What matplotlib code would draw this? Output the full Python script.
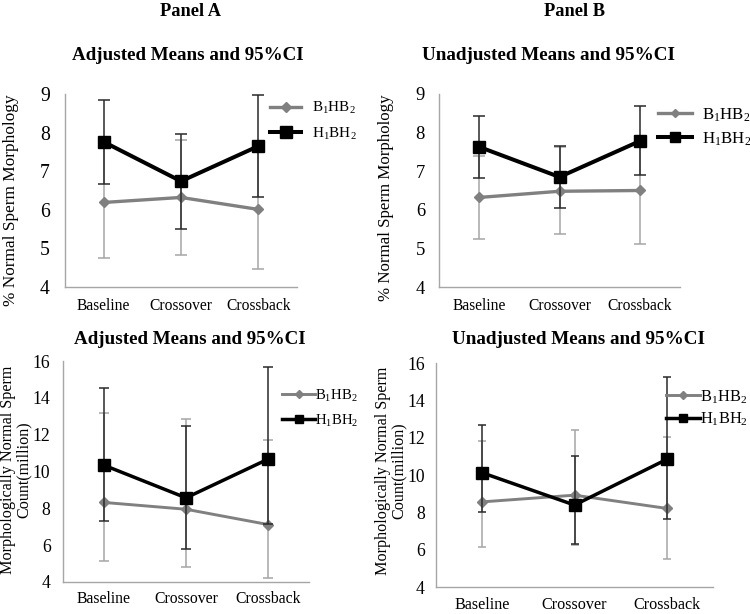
import matplotlib
matplotlib.use("Agg")
import matplotlib.pyplot as plt

plt.rcParams['font.family'] = ['Liberation Serif', 'DejaVu Serif']
plt.rcParams['mathtext.default'] = 'regular'

cats = ['Baseline', 'Crossover', 'Crossback']
label_b = r'B$_1$HB$_2$'
label_h = r'H$_1$BH$_2$'

# panel A top - adjusted % normal morphology
adj_morph_b = [6.19, 6.32, 6.01]
adj_morph_b_lo = [4.76, 4.82, 4.47]
adj_morph_b_hi = [7.62, 7.82, 7.55]
adj_morph_h = [7.76, 6.74, 7.65]
adj_morph_h_lo = [6.67, 5.51, 6.34]
adj_morph_h_hi = [8.85, 7.97, 8.98]

# panel B top - unadjusted % normal morphology
unadj_morph_b = [6.32, 6.48, 6.50]
unadj_morph_b_lo = [5.25, 5.38, 5.11]
unadj_morph_b_hi = [7.39, 7.63, 7.89]
unadj_morph_h = [7.63, 6.85, 7.78]
unadj_morph_h_lo = [6.82, 6.05, 6.89]
unadj_morph_h_hi = [8.43, 7.64, 8.69]

# panel A bottom - adjusted normal sperm count
adj_count_b = [8.32, 7.95, 7.12]
adj_count_b_lo = [5.12, 4.82, 4.24]
adj_count_b_hi = [13.15, 12.83, 11.69]
adj_count_h = [10.34, 8.57, 10.67]
adj_count_h_lo = [7.30, 5.81, 7.15]
adj_count_h_hi = [14.55, 12.48, 15.69]

# panel B bottom - unadjusted normal sperm count
unadj_count_b = [8.56, 8.92, 8.21]
unadj_count_b_lo = [6.15, 6.25, 5.50]
unadj_count_b_hi = [11.83, 12.42, 12.04]
unadj_count_h = [10.12, 8.39, 10.84]
unadj_count_h_lo = [8.03, 6.33, 7.63]
unadj_count_h_hi = [12.68, 11.02, 15.27]

GREY = '#808080'
W, H = 750, 614

fig = plt.figure(figsize=(7.5, 6.14), dpi=100)


def px_axes(left, top, right, bottom):
    return fig.add_axes([left / W, 1 - bottom / H, (right - left) / W, (bottom - top) / H])


def draw(ax, b, b_lo, b_hi, h, h_lo, h_hi, ylim, yticks, st):
    x = list(range(len(cats)))
    # grey series first, black one on top (like Excel)
    ax.errorbar(x, b, yerr=[[m - l for m, l in zip(b, b_lo)], [u - m for m, u in zip(b, b_hi)]],
                fmt='none', ecolor='#a6a6a6', elinewidth=1.1, capsize=st['cap'], capthick=1.1, zorder=2)
    ax.plot(x, b, color=GREY, lw=st['lwb'], marker='D', ms=st['msd'],
            mfc=GREY, mec=GREY, label=label_b, zorder=3)
    ax.errorbar(x, h, yerr=[[m - l for m, l in zip(h, h_lo)], [u - m for m, u in zip(h, h_hi)]],
                fmt='none', ecolor='#2a2a2a', elinewidth=1.1, capsize=st['cap'], capthick=1.1, zorder=4)
    ax.plot(x, h, color='black', lw=st['lwh'], marker='s', ms=st['mss'],
            mfc='black', mec='black', label=label_h, zorder=5)
    ax.set_xlim(-0.5, 2.5)
    ax.set_ylim(*ylim)
    ax.set_yticks(yticks)
    ax.set_xticks(x)
    ax.set_xticklabels(cats)
    for s in ['top', 'right']:
        ax.spines[s].set_visible(False)
    for s in ['left', 'bottom']:
        ax.spines[s].set_color('#a6a6a6')
        ax.spines[s].set_linewidth(1.0)
    ax.tick_params(axis='y', length=0, labelsize=st['yfs'], pad=st['ypad'])
    ax.tick_params(axis='x', length=0, labelsize=st['xfs'], pad=st['xpad'])
    ax.set_facecolor('none')
    leg = ax.legend(loc='center left', bbox_to_anchor=(st['legx'] / W, 1 - st['legy'] / H),
                    bbox_transform=fig.transFigure, frameon=False, borderpad=0, borderaxespad=0,
                    fontsize=st['lfs'], handlelength=st['hl'], handletextpad=st['htp'],
                    labelspacing=st['ls'], markerscale=st['msc'])
    return leg


ax1 = px_axes(65, 94, 297, 287)
draw(ax1, adj_morph_b, adj_morph_b_lo, adj_morph_b_hi, adj_morph_h, adj_morph_h_lo, adj_morph_h_hi,
     (4, 9), range(4, 10),
     dict(cap=4.5, lwb=2.4, lwh=2.9, msd=5.2, mss=8.4, yfs=14.2, ypad=11, xfs=11.2, xpad=8,
          legx=270, legy=121, lfs=11, hl=2.05, htp=0.72, ls=0.62, msc=1.0))

ax2 = px_axes(439, 94, 680, 287)
draw(ax2, unadj_morph_b, unadj_morph_b_lo, unadj_morph_b_hi, unadj_morph_h, unadj_morph_h_lo, unadj_morph_h_hi,
     (4, 9), range(4, 10),
     dict(cap=4.0, lwb=2.4, lwh=2.9, msd=5.2, mss=8.4, yfs=13.4, ypad=10, xfs=11.2, xpad=8,
          legx=658, legy=127, lfs=12.2, hl=2.0, htp=0.6, ls=0.38, msc=0.85))

ax3 = px_axes(63, 361, 309, 582)
draw(ax3, adj_count_b, adj_count_b_lo, adj_count_b_hi, adj_count_h, adj_count_h_lo, adj_count_h_hi,
     (4, 16), range(4, 17, 2),
     dict(cap=3.5, lwb=2.1, lwh=2.5, msd=5.0, mss=8.2, yfs=12.7, ypad=9, xfs=11.3, xpad=6.5,
          legx=282, legy=408, lfs=10.6, hl=2.25, htp=0.0, ls=0.6, msc=0.75))

ax4 = px_axes(436, 363, 713, 587)
draw(ax4, unadj_count_b, unadj_count_b_lo, unadj_count_b_hi, unadj_count_h, unadj_count_h_lo, unadj_count_h_hi,
     (4, 16), range(4, 17, 2),
     dict(cap=2.8, lwb=2.1, lwh=2.5, msd=5.0, mss=8.2, yfs=12.7, ypad=8, xfs=11.6, xpad=7,
          legx=666, legy=408, lfs=11.8, hl=2.05, htp=0.0, ls=0.3, msc=0.75))

# titles
fig.text(191 / W, 1 - 16 / H, 'Panel A', ha='center', va='baseline', fontsize=13.2, fontweight='bold')
fig.text(575 / W, 1 - 16 / H, 'Panel B', ha='center', va='baseline', fontsize=13.2, fontweight='bold')
fig.text(188 / W, 1 - 59.5 / H, 'Adjusted Means and 95%CI', ha='center', va='baseline',
         fontsize=13.7, fontweight='bold')
fig.text(548 / W, 1 - 60 / H, 'Unadjusted Means and 95%CI', ha='center', va='baseline',
         fontsize=13.8, fontweight='bold')
fig.text(190 / W, 1 - 344.5 / H, 'Adjusted Means and 95%CI', ha='center', va='baseline',
         fontsize=13.7, fontweight='bold')
fig.text(578 / W, 1 - 344.5 / H, 'Unadjusted Means and 95%CI', ha='center', va='baseline',
         fontsize=13.8, fontweight='bold')

# y axis labels
fig.text(11 / W, 1 - 200 / H, '% Normal Sperm Morphology', rotation=90, ha='center', va='center', fontsize=12.4)
fig.text(386 / W, 1 - 198 / H, '% Normal Sperm Morphology', rotation=90, ha='center', va='center', fontsize=12.2)
fig.text(16 / W, 1 - 470 / H, 'Morphologically Normal Sperm\nCount(million)', rotation=90,
         ha='center', va='center', fontsize=11.6, linespacing=1.0)
fig.text(391 / W, 1 - 471 / H, 'Morphologically Normal Sperm\nCount(million)', rotation=90,
         ha='center', va='center', fontsize=11.6, linespacing=1.0)

fig.savefig('out.png', dpi=100)
